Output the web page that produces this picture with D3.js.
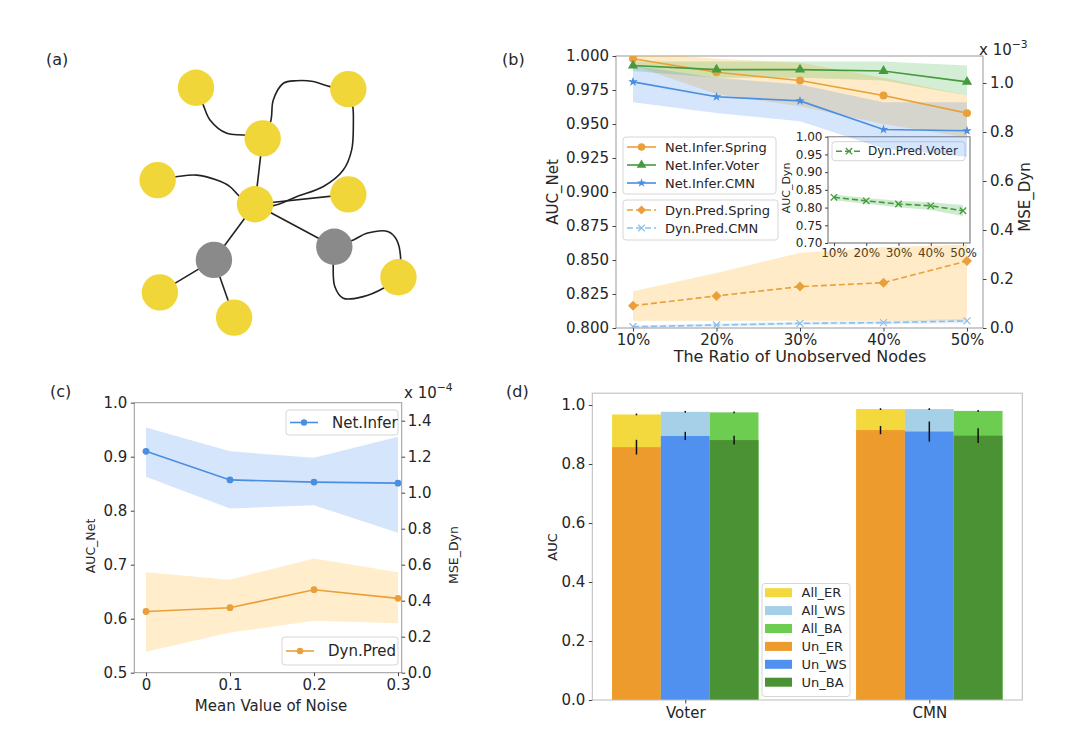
<!DOCTYPE html>
<html><head><meta charset="utf-8">
<script src="https://cdn.jsdelivr.net/npm/d3@7"></script>
<style>body{margin:0;background:#fff}svg{display:block}</style>
</head><body><svg id="c" width="1080" height="736"></svg>
<script>
// ---------------- DATA ----------------
// panel (b)
const ratios = [10, 20, 30, 40, 50];
const netSpring   = [0.998, 0.988, 0.982, 0.971, 0.958];
const netSpringLo = [0.993, 0.972, 0.963, 0.950, 0.940];
const netSpringHi = [1.003, 0.998, 0.995, 0.984, 0.971];
const netVoter    = [0.993, 0.990, 0.990, 0.989, 0.981];
const netVoterLo  = [0.989, 0.984, 0.984, 0.982, 0.971];
const netVoterHi  = [0.996, 0.996, 0.996, 0.996, 0.993];
const netCMN      = [0.981, 0.970, 0.967, 0.946, 0.945];
const netCMNLo    = [0.966, 0.958, 0.952, 0.932, 0.926];
const netCMNHi    = [0.993, 0.984, 0.979, 0.966, 0.966];
const dynSpring   = [0.091, 0.131, 0.169, 0.185, 0.273];   // x 1e-3
const dynSpringLo = [0.030, 0.030, 0.030, 0.030, 0.030];
const dynSpringHi = [0.150, 0.224, 0.307, 0.330, 0.340];
const dynCMN      = [0.005, 0.012, 0.019, 0.022, 0.029];
const dynCMNLo    = [0.000, 0.006, 0.012, 0.015, 0.020];
const dynCMNHi    = [0.010, 0.018, 0.026, 0.029, 0.038];
const dynVoter    = [0.829, 0.819, 0.810, 0.805, 0.791];
const dynVoterLo  = [0.821, 0.811, 0.801, 0.793, 0.776];
const dynVoterHi  = [0.837, 0.827, 0.819, 0.815, 0.807];
const bLeftTicks  = [0.800, 0.825, 0.850, 0.875, 0.900, 0.925, 0.950, 0.975, 1.000];
const bRightTicks = [0.0, 0.2, 0.4, 0.6, 0.8, 1.0];
const insetTicks  = [0.70, 0.75, 0.80, 0.85, 0.90, 0.95, 1.00];
// panel (c)
const noise  = [0, 0.1, 0.2, 0.3];
const cNet   = [0.910, 0.857, 0.853, 0.851];
const cNetLo = [0.863, 0.804, 0.810, 0.759];
const cNetHi = [0.954, 0.910, 0.898, 0.937];
const cDyn   = [0.340, 0.361, 0.461, 0.413];   // x 1e-4
const cDynLo = [0.117, 0.223, 0.288, 0.275];
const cDynHi = [0.558, 0.517, 0.634, 0.558];
const cLeftTicks  = [0.5, 0.6, 0.7, 0.8, 0.9, 1.0];
const cRightTicks = [0.0, 0.2, 0.4, 0.6, 0.8, 1.0, 1.2, 1.4];
// panel (d)
const models = ["Voter", "CMN"];
const nets = ["ER", "WS", "BA"];
const allAUC = { ER: [0.968, 0.986], WS: [0.977, 0.986], BA: [0.975, 0.980] };
const allErr = { ER: [0.003, 0.003], WS: [0.003, 0.003], BA: [0.003, 0.003] };
const unAUC  = { ER: [0.857, 0.915], WS: [0.895, 0.910], BA: [0.881, 0.896] };
const unErr  = { ER: [0.025, 0.014], WS: [0.014, 0.034], BA: [0.015, 0.025] };
const dTicks = [0.0, 0.2, 0.4, 0.6, 0.8, 1.0];
// panel (a) schematic graph (abstract 0-100 units)
const nodes = [
  {id: "n1", x: 20, y: 9.9, hidden: false}, {id: "n2", x: 74.4, y: 10.4, hidden: false},
  {id: "n3", x: 43.8, y: 28, hidden: false}, {id: "n4", x: 6.3, y: 42.9, hidden: false},
  {id: "n5", x: 41.1, y: 51.5, hidden: false}, {id: "n6", x: 74.4, y: 48, hidden: false},
  {id: "g1", x: 26.4, y: 71.4, hidden: true}, {id: "g2", x: 69.4, y: 66.7, hidden: true},
  {id: "n7", x: 7.1, y: 83, hidden: false}, {id: "n8", x: 33.6, y: 92, hidden: false},
  {id: "n9", x: 92.3, y: 77.6, hidden: false}
];
const edges = [
  {s: "n1", t: "n3", via: [[22.6, 16.1], [25, 21.4], [31, 26.2], [36.9, 26.8]]},
  {s: "n3", t: "n2", via: [[46.7, 21.8], [47.6, 14.3], [51.2, 8.3], [55.9, 7.4], [61.9, 7.7], [67.9, 9.5]]},
  {s: "n3", t: "n5", via: []},
  {s: "n4", t: "n5", via: [[12.9, 41.7], [20.2, 41.1], [27.4, 42.9], [32.1, 45.2], [35.7, 48.8]]},
  {s: "n5", t: "n6", via: []},
  {s: "n5", t: "n2", via: [[47.6, 52], [55.9, 48.8], [65.5, 45.2], [72.6, 39.3], [75.6, 32.1], [76.2, 22.6], [76, 16.7]]},
  {s: "n5", t: "g1", via: []},
  {s: "n5", t: "g2", via: []},
  {s: "g1", t: "n7", via: []},
  {s: "g1", t: "n8", via: []},
  {s: "g2", t: "n9", via: [[76.2, 64.3], [81, 61.9], [88.7, 61.3], [91.7, 64.3], [93.1, 71.4]]},
  {s: "g2", t: "n9", via: [[69, 73.8], [69.6, 81], [72.6, 85.1], [79.7, 84.5], [86.9, 81.5]]}
];
const nodeRadius = 6.5;

// ---------------- HELPERS ----------------
const FONT = "DejaVu Sans";
const TXT = "#262626";
const svg = d3.select("#c");
svg.append("rect").attr("width", 1080).attr("height", 736).attr("fill", "#fff");

function text(g, x, y, s, fs, anchor = "start", rot = 0) {
  const t = g.append("text").attr("x", x).attr("y", y).attr("font-size", fs)
    .attr("font-family", FONT).attr("fill", TXT).attr("text-anchor", anchor).text(s);
  if (rot) t.attr("transform", `rotate(${rot},${x},${y})`).attr("dominant-baseline", "central");
  return t;
}
function axis(g, gen, tx, ty, fs) {
  const a = g.append("g").attr("transform", `translate(${tx},${ty})`).call(gen);
  a.select(".domain").remove();
  a.attr("font-family", FONT).attr("font-size", fs);
  a.selectAll(".tick line").attr("stroke", "#444");
  a.selectAll(".tick text").attr("fill", TXT);
  return a;
}
function frame(g, x0, x1, y0, y1, color, fill = "none") {
  g.append("rect").attr("x", x0).attr("y", y0).attr("width", x1 - x0).attr("height", y1 - y0)
    .attr("fill", fill).attr("stroke", color).attr("stroke-width", 1);
}
function clip(id, x0, x1, y0, y1) {
  svg.append("clipPath").attr("id", id).append("rect")
    .attr("x", x0).attr("y", y0).attr("width", x1 - x0).attr("height", y1 - y0);
  return svg.append("g").attr("clip-path", `url(#${id})`);
}
function sym(type, size) {
  if (type === "x") { const s = size; return `M${-s},${-s}L${s},${s}M${-s},${s}L${s},${-s}`; }
  const map = {circle: d3.symbolCircle, triangle: d3.symbolTriangle, star: d3.symbolStar, diamond: d3.symbolSquare};
  return d3.symbol(map[type], size)();
}
function marker(g, x, y, type, size, color) {
  const p = g.append("path").attr("d", sym(type, size))
    .attr("transform", `translate(${x},${y})${type === "diamond" ? " rotate(45)" : ""}`);
  if (type === "x") p.attr("fill", "none").attr("stroke", color).attr("stroke-width", 1.3);
  else p.attr("fill", color);
}
function band(g, xs, lo, hi, xS, yS, color, op) {
  g.append("path").datum(xs.map((x, i) => [x, lo[i], hi[i]]))
    .attr("d", d3.area().x(d => xS(d[0])).y0(d => yS(d[1])).y1(d => yS(d[2])))
    .attr("fill", color).attr("fill-opacity", op);
}
function line(g, xs, ys, xS, yS, color, o) {
  g.append("path").datum(xs.map((x, i) => [x, ys[i]]))
    .attr("d", d3.line().x(d => xS(d[0])).y(d => yS(d[1])))
    .attr("fill", "none").attr("stroke", color).attr("stroke-width", 1.6)
    .attr("stroke-dasharray", o.dash ? "6,3" : null);
  xs.forEach((x, i) => marker(g, xS(x), yS(ys[i]), o.mk, o.size, o.mkColor || color));
}
function legendBox(g, x0, x1, y0, y1) {
  g.append("rect").attr("x", x0).attr("y", y0).attr("width", x1 - x0).attr("height", y1 - y0)
    .attr("rx", 3).attr("fill", "#fff").attr("fill-opacity", 0.85).attr("stroke", "#d6d6d6");
}
function legendEntry(g, x0, x1, y, color, o, label, tx, fs) {
  g.append("line").attr("x1", x0).attr("x2", x1).attr("y1", y).attr("y2", y)
    .attr("stroke", color).attr("stroke-width", 1.6).attr("stroke-dasharray", o.dash ? "6,3" : null);
  marker(g, (x0 + x1) / 2, y, o.mk, o.size, color);
  text(g, tx, y, label, fs).attr("dy", "0.35em");
}
function sciLabel(g, x, y, exp, fs) {
  const t = g.append("text").attr("x", x).attr("y", y).attr("font-size", fs)
    .attr("font-family", FONT).attr("fill", TXT);
  t.append("tspan").text("x 10");
  t.append("tspan").attr("dy", -7).attr("font-size", fs * 0.72).text("\u2212" + exp);
}

const C = {
  orange: "#e9a03a", green: "#449a3c", blue: "#4a8ee0", lblue: "#8cc0ea",
  bandOrange: "#ffa500", bandGreen: "#3cb043", bandBlue: "#2f7fed"
};

// ---------------- PANEL (a) ----------------
{
  const g = svg.append("g");
  text(g, 46, 65, "(a)", 16);
  const xA = d3.scaleLinear().domain([0, 100]).range([140, 420]);
  const yA = d3.scaleLinear().domain([0, 100]).range([60, 340]);
  const rA = d3.scaleLinear().domain([0, 100]).range([0, 280]);
  const byId = Object.fromEntries(nodes.map(n => [n.id, n]));
  const lineGen = d3.line().x(d => xA(d[0])).y(d => yA(d[1])).curve(d3.curveCatmullRom.alpha(0.5));
  edges.forEach(e => {
    const s = byId[e.s], t = byId[e.t];
    const pts = [[s.x, s.y], ...e.via, [t.x, t.y]];
    g.append("path").attr("d", lineGen(pts)).attr("fill", "none")
      .attr("stroke", "#222").attr("stroke-width", 1.6);
  });
  g.selectAll("circle.node").data(nodes).join("circle")
    .attr("cx", d => xA(d.x)).attr("cy", d => yA(d.y)).attr("r", rA(nodeRadius))
    .attr("fill", d => d.hidden ? "#8a8a8a" : "#f1d63a");
}

// ---------------- PANEL (b) ----------------
{
  const L = 616, R = 983, T = 56, B = 328;
  const g = svg.append("g");
  text(g, 502, 65, "(b)", 16);
  const x = d3.scaleLinear().domain([10, 50]).range([633, 967]);
  const y = d3.scaleLinear().domain([0.8, 1.0]).range([B, T]);
  const y2 = d3.scaleLinear().domain([0, 1]).range([B, 83]);
  const cg = clip("clipB", L, R, T, B);
  band(cg, ratios, netSpringLo, netSpringHi, x, y, C.bandOrange, 0.22);
  band(cg, ratios, netVoterLo, netVoterHi, x, y, C.bandGreen, 0.22);
  band(cg, ratios, netCMNLo, netCMNHi, x, y, C.bandBlue, 0.2);
  line(cg, ratios, netSpring, x, y, C.orange, {mk: "circle", size: 50});
  line(cg, ratios, netVoter, x, y, C.green, {mk: "triangle", size: 45});
  line(cg, ratios, netCMN, x, y, C.blue, {mk: "star", size: 28});
  band(cg, ratios, dynSpringLo, dynSpringHi, x, y2, C.bandOrange, 0.22);
  band(cg, ratios, dynCMNLo, dynCMNHi, x, y2, C.lblue, 0.25);
  line(cg, ratios, dynSpring, x, y2, C.orange, {mk: "diamond", size: 50, dash: true});
  line(cg, ratios, dynCMN, x, y2, C.lblue, {mk: "x", size: 3.5, dash: true});
  frame(g, L, R, T, B, "#999");
  axis(g, d3.axisLeft(y).tickValues(bLeftTicks).tickFormat(d3.format(".3f")).tickSize(3.5).tickPadding(3.5), L, 0, 15);
  axis(g, d3.axisRight(y2).tickValues(bRightTicks).tickFormat(d3.format(".1f")).tickSize(3.5).tickPadding(3.5), R, 0, 15);
  axis(g, d3.axisBottom(x).tickValues(ratios).tickFormat(d => d + "%").tickSize(3.5).tickPadding(3), 0, B, 15);
  text(g, 800, 362, "The Ratio of Unobserved Nodes", 16, "middle");
  text(g, 553, 192, "AUC_Net", 15, "middle", -90);
  text(g, 1025, 197, "MSE_Dyn", 15, "middle", -90);
  sciLabel(g, 979, 55, "3", 15);
  // legends
  legendBox(g, 623, 776, 137, 194);
  legendEntry(g, 627, 656, 147, C.orange, {mk: "circle", size: 45}, "Net.Infer.Spring", 665, 13);
  legendEntry(g, 627, 656, 165, C.green, {mk: "triangle", size: 40}, "Net.Infer.Voter", 665, 13);
  legendEntry(g, 627, 656, 183, C.blue, {mk: "star", size: 25}, "Net.Infer.CMN", 665, 13);
  legendBox(g, 623, 778, 200, 240);
  legendEntry(g, 627, 656, 210, C.orange, {mk: "diamond", size: 40, dash: true}, "Dyn.Pred.Spring", 665, 13);
  legendEntry(g, 627, 656, 228, C.lblue, {mk: "x", size: 3.2, dash: true}, "Dyn.Pred.CMN", 665, 13);
  // inset
  const iL = 828, iR = 970, iT = 136.7, iB = 243;
  const ix = d3.scaleLinear().domain([10, 50]).range([834, 963]);
  const iy = d3.scaleLinear().domain([0.70, 1.00]).range([iB, iT]);
  frame(g, iL, iR, iT, iB, "#999", "#fff");
  const ig = clip("clipI", iL, iR, iT, iB);
  band(ig, ratios, dynVoterLo, dynVoterHi, ix, iy, C.bandGreen, 0.25);
  line(ig, ratios, dynVoter, ix, iy, C.green, {mk: "x", size: 3.2, dash: true});
  frame(g, iL, iR, iT, iB, "#999");
  axis(g, d3.axisLeft(iy).tickValues(insetTicks).tickFormat(d3.format(".2f")).tickSize(3).tickPadding(2.5), iL, 0, 12);
  axis(g, d3.axisBottom(ix).tickValues(ratios).tickFormat(d => d + "%").tickSize(3).tickPadding(2.5), 0, iB, 12);
  text(g, 786, 188, "AUC_Dyn", 11, "middle", -90);
  legendBox(g, 832, 965, 141.7, 160.7);
  legendEntry(g, 836, 862, 151.2, C.green, {mk: "x", size: 3.2, dash: true}, "Dyn.Pred.Voter", 868, 12);
}

// ---------------- PANEL (c) ----------------
{
  const L = 134.3, R = 401.7, T = 402.7, B = 672.7;
  const g = svg.append("g");
  text(g, 50, 397, "(c)", 16);
  const x = d3.scaleLinear().domain([0, 0.3]).range([146, 398]);
  const y = d3.scaleLinear().domain([0.5, 1.0]).range([B, T]);
  const y2 = d3.scaleLinear().domain([0, 1.5]).range([B, T]);
  const cg = clip("clipC", L, R, T, B);
  band(cg, noise, cNetLo, cNetHi, x, y, C.bandBlue, 0.2);
  line(cg, noise, cNet, x, y, C.blue, {mk: "circle", size: 36});
  band(cg, noise, cDynLo, cDynHi, x, y2, C.bandOrange, 0.2);
  line(cg, noise, cDyn, x, y2, C.orange, {mk: "circle", size: 36});
  frame(g, L, R, T, B, "#999");
  axis(g, d3.axisLeft(y).tickValues(cLeftTicks).tickFormat(d3.format(".1f")).tickSize(3.5).tickPadding(3.5), L, 0, 15);
  axis(g, d3.axisRight(y2).tickValues(cRightTicks).tickFormat(d3.format(".1f")).tickSize(3.5).tickPadding(2.5), R, 0, 15);
  axis(g, d3.axisBottom(x).tickValues(noise).tickFormat(d => d === 0 ? "0" : d3.format(".1f")(d)).tickSize(3.5).tickPadding(3.5), 0, B, 15);
  text(g, 271, 711, "Mean Value of Noise", 15, "middle");
  text(g, 90, 546, "AUC_Net", 12.5, "middle", -90);
  text(g, 453, 555, "MSE_Dyn", 12.5, "middle", -90);
  sciLabel(g, 404, 398, "4", 15);
  legendBox(g, 286, 398, 410, 435);
  legendEntry(g, 290, 318, 422.5, C.blue, {mk: "circle", size: 32}, "Net.Infer", 332, 15);
  legendBox(g, 282, 398, 637, 665);
  legendEntry(g, 286, 314, 651, C.orange, {mk: "circle", size: 32}, "Dyn.Pred", 328, 15);
}

// ---------------- PANEL (d) ----------------
{
  const L = 592.3, R = 1022.3, B = 700;
  const g = svg.append("g");
  text(g, 506, 397, "(d)", 16);
  const y = d3.scaleLinear().domain([0, 1.0]).range([B, 405]);
  const T = y(1.04);
  const x = d3.scalePoint().domain(models).range([L, R]).padding(0.381);
  const w = x.step() * 0.2;
  const allCol = {ER: "#f3d93e", WS: "#a6d0e8", BA: "#6ccd50"};
  const unCol = {ER: "#ee9b2d", WS: "#5091f0", BA: "#4a9233"};
  models.forEach((m, mi) => {
    nets.forEach((n, k) => {
      const x0 = x(m) + (k - 1.5) * w;
      g.append("rect").attr("x", x0).attr("width", w).attr("y", y(allAUC[n][mi]))
        .attr("height", y(0) - y(allAUC[n][mi])).attr("fill", allCol[n]);
      g.append("rect").attr("x", x0).attr("width", w).attr("y", y(unAUC[n][mi]))
        .attr("height", y(0) - y(unAUC[n][mi])).attr("fill", unCol[n]);
    });
  });
  models.forEach((m, mi) => {
    nets.forEach((n, k) => {
      const cx = x(m) + (k - 1) * w;
      [[allAUC, allErr], [unAUC, unErr]].forEach(([v, e]) => {
        g.append("line").attr("x1", cx).attr("x2", cx)
          .attr("y1", y(v[n][mi] - e[n][mi])).attr("y2", y(v[n][mi] + e[n][mi]))
          .attr("stroke", "#111").attr("stroke-width", 1.5);
      });
    });
  });
  frame(g, L, R, T, B, "#bbb");
  axis(g, d3.axisLeft(y).tickValues(dTicks).tickFormat(d3.format(".1f")).tickSize(3.5).tickPadding(3.5), L, 0, 15);
  axis(g, d3.axisBottom(x).tickSize(3.5).tickPadding(3.5), 0, B, 15);
  text(g, 552, 547, "AUC", 13, "middle", -90);
  // legend
  legendBox(g, 762, 850, 583.5, 696.5);
  const items = [["All_ER", allCol.ER], ["All_WS", allCol.WS], ["All_BA", allCol.BA],
                 ["Un_ER", unCol.ER], ["Un_WS", unCol.WS], ["Un_BA", unCol.BA]];
  items.forEach(([lab, col], i) => {
    const yy = 592.7 + i * 17.9;
    g.append("rect").attr("x", 765).attr("y", yy - 4.5).attr("width", 27).attr("height", 9).attr("fill", col);
    text(g, 801.5, yy, lab, 13).attr("dy", "0.35em");
  });
}
</script></body></html>
